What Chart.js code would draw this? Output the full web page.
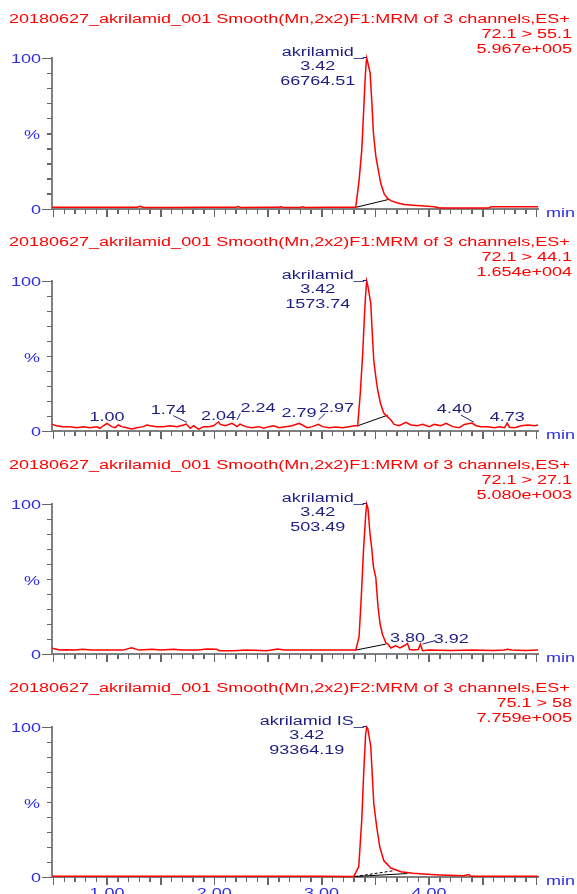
<!DOCTYPE html>
<html><head><meta charset="utf-8">
<script src="https://cdn.jsdelivr.net/npm/chart.js@4.4.1/dist/chart.umd.min.js"></script>
<style>
html,body{margin:0;padding:0;background:#fff;}
#wrap{position:relative;width:577px;height:894px;overflow:hidden;background:#fff;}
canvas{position:absolute;left:0;}
</style></head><body><div id="wrap"></div>
<script>
// ---------------- DATA ----------------
const X_MIN = 0.488, X_MAX = 5.016;
const titles = [
  "20180627_akrilamid_001 Smooth(Mn,2x2)F1:MRM of 3 channels,ES+",
  "20180627_akrilamid_001 Smooth(Mn,2x2)F1:MRM of 3 channels,ES+",
  "20180627_akrilamid_001 Smooth(Mn,2x2)F1:MRM of 3 channels,ES+",
  "20180627_akrilamid_001 Smooth(Mn,2x2)F2:MRM of 3 channels,ES+"
];
const transitions = ["72.1 > 55.1", "72.1 > 44.1", "72.1 > 27.1", "75.1 > 58"];
const maxIntensities = ["5.967e+005", "1.654e+004", "5.080e+003", "7.759e+005"];
const peakNames = ["akrilamid", "akrilamid", "akrilamid", "akrilamid IS"];
const peakRT = "3.42";
const peakAreas = ["66764.51", "1573.74", "503.49", "93364.19"];
const timeTickLabels = ["1.00", "2.00", "3.00", "4.00"];
const yTickLabels = ["100", "%", "0"];
const minorPeaks2 = ["1.00", "1.74", "2.04", "2.24", "2.79", "2.97", "4.40", "4.73"];
const minorPeaks3 = ["3.80", "3.92"];

// panel 1: 72.1 > 55.1
const t1 = [0.49,0.80,1.10,1.28,1.31,1.34, 1.60,1.90,2.20,2.22,2.25, 2.50,2.60,2.62,2.65, 2.80,2.82,2.85,3.10,
  3.318,3.349,3.374,3.389,3.402, 3.412,3.42,3.43,3.452,3.467, 3.483,3.505,3.527,3.551,3.583,
  3.614,3.645,3.70,3.769,3.85, 3.956,4.05,4.10,4.55,4.58, 4.70,5.016];
const i1 = [1.2,1.2,1.2,1.2,1.8,1.0, 1.0,1.1,1.1,1.6,1.0, 1.1,1.1,1.5,1.0, 1.0,1.4,1.0,1.1,
  1.1,19,39,61,81, 94,100,97,90,72, 50,35,26,17,10,
  7,5.5,4.2,3.0,2.5, 2.0,1.5,0.6,0.6,1.5, 1.5,1.5];
const base1T = [3.318, 3.629];
const base1V = [1.1, 6.4];

// panel 2: 72.1 > 44.1
const t2 = [0.49,0.53,0.59,0.654,0.717,0.779,0.841,0.903,0.935,0.966,
  1.00,1.044,1.075,1.106,1.137,1.184,1.231,1.278,1.339,1.371,
  1.402,1.464,1.526,1.589,1.651,1.713,1.74,1.776,1.807,1.854,
  1.90,1.947,1.993,2.02,2.04,2.056,2.103,2.165,2.212,2.24,
  2.29,2.352,2.414,2.461,2.508,2.555,2.601,2.664,2.726,2.79,
  2.82,2.866,2.913,2.97,3.007,3.069,3.131,3.193,3.255,3.302,
  3.336,3.36,3.383,3.40,3.411,3.42,3.43,3.458,3.472,3.486,
  3.505,3.523,3.55,3.579,3.598,3.645,3.676,3.723,3.785,3.832,
  3.894,3.941,4.003,4.05,4.112,4.159,4.221,4.283,4.33,4.40,
  4.439,4.486,4.549,4.61,4.657,4.704,4.73,4.75,4.797,4.86,
  4.922,4.984,5.016];
const i2 = [4.4,3.5,2.9,2.9,2.2,2.9,2.2,2.8,1.8,3.5,
  5.0,2.9,2.2,4.0,2.9,2.2,1.3,2.2,2.9,4.0,
  3.5,2.9,2.9,3.5,2.9,4.0,4.6,1.8,3.5,1.3,
  2.9,2.8,3.5,5.0,6.0,4.4,3.5,5.1,2.9,4.6,
  2.9,2.2,2.9,1.8,2.9,3.5,2.2,2.9,3.5,5.1,
  4.0,2.2,2.9,4.4,2.9,2.2,2.6,2.2,2.9,3.5,
  3.5,25,52,78,92,100,97,85,65,47,
  36,27,18,12,10.6,7.3,4.4,3.5,5.7,4.0,
  3.5,4.4,2.9,4.4,3.5,5.1,2.9,2.2,4.4,5.3,
  3.5,2.9,2.9,2.2,2.9,2.2,5.3,2.5,2.2,3.5,
  4.0,3.5,4.0];
const base2T = [3.336, 3.617];
const base2V = [3.5, 10.6];

// panel 3: 72.1 > 27.1
const t3 = [0.49,0.52,0.56,0.62,0.70,0.776,0.85,1.00,1.15,1.23,
  1.30,1.42,1.50,1.62,1.70,1.85,1.93,2.02,2.05,2.18,
  2.30,2.49,2.59,2.65,2.80,2.95,3.10,3.25,3.318,3.349,
  3.371,3.39,3.411,3.42,3.432,3.451,3.466,3.483,3.505,3.514,
  3.526,3.545,3.567,3.598,3.62,3.645,3.69,3.73,3.78,3.80,
  3.82,3.86,3.90,3.92,3.94,4.00,4.20,4.40,4.60,4.70,
  4.735,4.77,4.90,5.016];
const i3 = [3.8,3.3,2.6,2.8,2.6,3.1,2.6,2.6,2.6,4.2,
  2.6,3.1,2.6,3.1,2.6,2.6,3.3,3.1,2.2,2.2,
  2.6,2.2,3.3,2.6,2.6,2.6,2.6,2.6,2.6,11.5,
  40,69,93,100,97,80,71,58,51,42,
  31,20,13,7.5,6.5,4.0,5.5,4.0,6.0,7.0,
  3.0,2.6,3.0,6.5,2.2,2.6,2.4,2.6,2.4,2.6,
  3.1,2.6,2.4,2.6];
const base3T = [3.318, 3.598];
const base3V = [2.6, 6.6];

// panel 4: 75.1 > 58
const t4 = [0.49,1.00,1.50,2.00,2.50,3.00,3.30,3.346,3.374,3.393,
  3.41,3.42,3.43,3.458,3.486,3.514,3.542,3.579,3.645,3.738,
  3.85,3.953,4.10,4.327,4.36,4.374,4.39,4.41,4.60,4.80,5.016];
const i4 = [0.5,0.5,0.5,0.5,0.5,0.5,0.4,7,38,71,
  95,100,99,87,49,33,20,11,6,3.5,
  2.5,2.0,1.4,0.8,1.5,1.5,0.5,0.5,0.5,0.5,0.5];
const base4T = [3.30, 3.80];
const base4V = [0.3, 2.3];
const base4dT = [3.31, 3.68];
const base4dV = [0.3, 4.3];

// ---------------- LAYOUT / STYLE ----------------
const RED = '#ff0000', BLUE = '#2e2ee6', NAVY = '#1e1e82', GRAY = '#808080', TICK = '#666666';
const FONT = '12.5px "Liberation Sans", Arial, sans-serif';
const SX = 1.44;
const tops = [0, 223, 446, 669];
const heights = [223, 223, 223, 225];
const bottoms = [209, 208, 208, 208];
const minorLayout2 = [
  {dx:0, dy:10}, {dx:-18, dy:16.7, c:[-13,15.3,0.5,8.7]}, {dx:0, dy:11},
  {dx:18, dy:19.3, c:[0.3,17.7,-3,11]}, {dx:0, dy:14.3}, {dx:18, dy:18.7, c:[7,17.7,0,11]},
  {dx:-17.5, dy:17.7, c:[-11,16,2,8.7]}, {dx:0, dy:10}
];
const minorLayout3 = [ {dx:0, dy:12.3}, {dx:31, dy:11.3, c:[2.3,10,14.6,13.3]} ];

function pts(t, v) { return t.map((x, k) => ({x: x, y: v[k]})); }

const panels = [
  {t:t1, v:i1, bases:[{t:base1T, v:base1V}], minor:[], layout:[], timeLabels:false},
  {t:t2, v:i2, bases:[{t:base2T, v:base2V}], minor:minorPeaks2, layout:minorLayout2, timeLabels:false},
  {t:t3, v:i3, bases:[{t:base3T, v:base3V}], minor:minorPeaks3, layout:minorLayout3, timeLabels:false},
  {t:t4, v:i4, bases:[{t:base4T, v:base4V}, {t:base4dT, v:base4dV, dash:[3,2]}], minor:[], layout:[], timeLabels:true}
];

function txt(ctx, s, x, y, align, color) {
  ctx.save();
  ctx.font = FONT;
  ctx.fillStyle = color;
  ctx.textBaseline = 'alphabetic';
  ctx.textAlign = 'left';
  const w = ctx.measureText(s).width * SX;
  const left = align === 'right' ? x - w : (align === 'center' ? x - w / 2 : x);
  ctx.translate(left, y);
  ctx.scale(SX, 1);
  ctx.fillText(s, 0, 0);
  ctx.restore();
  return w;
}
function seg(ctx, x1, y1, x2, y2, color) {
  ctx.save();
  ctx.strokeStyle = color; ctx.lineWidth = 1;
  ctx.beginPath(); ctx.moveTo(x1, y1); ctx.lineTo(x2, y2); ctx.stroke();
  ctx.restore();
}

const textPlugin = {
  id: 'msText',
  beforeDatasetsDraw(chart) {
    // tick marks taken from the library's own scale ticks
    const ctx = chart.ctx, xs = chart.scales.x, xm = chart.scales.xMajor, ys = chart.scales.y, ym = chart.scales.yMajor;
    const y0 = Math.round(ys.getPixelForValue(0)), xl = Math.round(xs.getPixelForValue(X_MIN));
    ctx.save();
    ctx.strokeStyle = TICK; ctx.lineWidth = 1;
    ctx.beginPath();
    xs.ticks.forEach(t => { const x = Math.round(xs.getPixelForValue(t.value)) + 0.5; ctx.moveTo(x, y0); ctx.lineTo(x, y0 + 5); });
    xm.ticks.forEach(t => { const x = Math.round(xm.getPixelForValue(t.value)) + 0.5; ctx.moveTo(x, y0); ctx.lineTo(x, y0 + 8); });
    ys.ticks.forEach(t => { const y = Math.round(ys.getPixelForValue(t.value)) + 0.5; ctx.moveTo(xl, y); ctx.lineTo(xl - 5, y); });
    ym.ticks.forEach(t => { const y = Math.round(ym.getPixelForValue(t.value)) + 0.5; ctx.moveTo(xl, y); ctx.lineTo(xl - 10, y); });
    ctx.stroke();
    ctx.restore();
  },
  afterDraw(chart, args, opts) {
    const i = opts.index, p = panels[i];
    const ctx = chart.ctx, xs = chart.scales.x, ys = chart.scales.y;
    const y0 = ys.getPixelForValue(0), y100 = ys.getPixelForValue(100), y50 = ys.getPixelForValue(50);
    txt(ctx, titles[i], 9, 23, 'left', RED);
    txt(ctx, transitions[i], 572, 38, 'right', RED);
    txt(ctx, maxIntensities[i], 572, 53, 'right', RED);
    txt(ctx, yTickLabels[0], 41, y100 + 5, 'right', BLUE);
    txt(ctx, yTickLabels[1], 40, y50 + 5.5, 'right', BLUE);
    txt(ctx, yTickLabels[2], 41, y0 + 4.5, 'right', BLUE);
    txt(ctx, 'min', 546, y0 + 7.5, 'left', BLUE);
    if (p.timeLabels) {
      timeTickLabels.forEach(s => txt(ctx, s, xs.getPixelForValue(parseFloat(s)), y0 + 19.5, 'center', BLUE));
    }
    // main peak label
    const px = xs.getPixelForValue(parseFloat(peakRT));
    ctx.save(); ctx.font = FONT;
    const nameW = ctx.measureText(peakNames[i]).width * SX;
    const usW = ctx.measureText('_').width * SX;
    ctx.restore();
    const nameRight = px - 3 - usW;
    const cx = nameRight - nameW / 2;
    txt(ctx, peakNames[i] + '_', px - 3, y100 - 2, 'right', NAVY);
    seg(ctx, px - 4, y100 - 0.5, px, y100 - 0.5, NAVY);
    txt(ctx, peakRT, cx, y100 + 12, 'center', NAVY);
    txt(ctx, peakAreas[i], cx, y100 + 27, 'center', NAVY);
    // minor peak labels
    p.minor.forEach((s, k) => {
      const L = p.layout[k];
      const mx = xs.getPixelForValue(parseFloat(s));
      txt(ctx, s, mx + L.dx, y0 - L.dy, 'center', NAVY);
      if (L.c) seg(ctx, mx + L.c[0], y0 - L.c[1], mx + L.c[2], y0 - L.c[3], NAVY);
    });
  }
};

const wrap = document.getElementById('wrap');
panels.forEach((p, i) => {
  const c = document.createElement('canvas');
  c.width = 577; c.height = heights[i];
  c.style.top = tops[i] + 'px';
  c.style.width = '577px'; c.style.height = heights[i] + 'px';
  wrap.appendChild(c);
  const datasets = [{data: pts(p.t, p.v), borderColor: RED, borderWidth: 1.5, pointRadius: 0, tension: 0, clip: false, fill: false}];
  p.bases.forEach(b => datasets.push({data: pts(b.t, b.v), borderColor: '#000000', borderWidth: 1, borderDash: b.dash || [], pointRadius: 0, clip: false, fill: false}));
  const fit0h = s => { s.height = 0; };
  const fit0w = s => { s.width = 0; };
  new Chart(c, {
    type: 'line',
    data: {datasets},
    options: {
      responsive: false, animation: false, devicePixelRatio: 1, events: [],
      layout: {padding: {left: 52, right: 39, top: 58, bottom: heights[i] - bottoms[i]}},
      plugins: {legend: {display: false}, tooltip: {enabled: false}, title: {display: false}, msText: {index: i}},
      scales: {
        x: {type: 'linear', position: 'bottom', min: X_MIN, max: X_MAX, afterFit: fit0h,
            ticks: {display: false, stepSize: 0.1, includeBounds: false},
            grid: {drawOnChartArea: false, drawTicks: true, tickLength: 5, color: TICK, tickColor: TICK, lineWidth: 1, tickWidth: 1},
            border: {display: true, color: GRAY, width: 2}},
        xMajor: {type: 'linear', position: 'bottom', min: X_MIN, max: X_MAX, afterFit: fit0h,
            ticks: {display: false, stepSize: 0.5, includeBounds: false},
            grid: {drawOnChartArea: false, drawTicks: true, tickLength: 8, color: TICK, tickColor: TICK, lineWidth: 1, tickWidth: 1},
            border: {display: false}},
        y: {type: 'linear', position: 'left', min: 0, max: 100, afterFit: fit0w,
            ticks: {display: false, stepSize: 10, includeBounds: false},
            grid: {drawOnChartArea: false, drawTicks: true, tickLength: 5, color: TICK, tickColor: TICK, lineWidth: 1, tickWidth: 1},
            border: {display: true, color: GRAY, width: 2}},
        yMajor: {type: 'linear', position: 'left', min: 0, max: 100, afterFit: fit0w,
            ticks: {display: false, stepSize: 100, includeBounds: false},
            grid: {drawOnChartArea: false, drawTicks: true, tickLength: 10, color: TICK, tickColor: TICK, lineWidth: 1, tickWidth: 1},
            border: {display: false}}
      }
    },
    plugins: [textPlugin]
  });
});
</script>
</body></html>
